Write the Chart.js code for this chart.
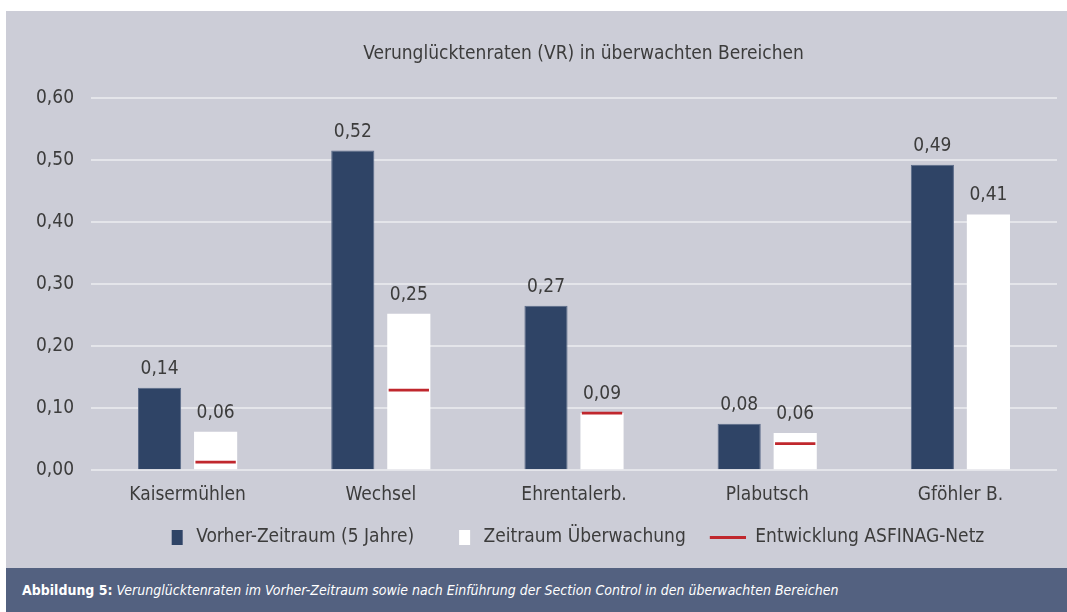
<!DOCTYPE html>
<html>
<head>
<meta charset="utf-8">
<script src="https://cdn.jsdelivr.net/npm/chart.js@4"></script>
<style>
  body { margin: 0; background: #fff; width: 1067px; height: 612px; position: relative; overflow: hidden; }
  #panel { position: absolute; left: 6px; top: 11px; width: 1061px; height: 557px; background: #cccdd7; }
  #caption { position: absolute; left: 6px; top: 568px; width: 1061px; height: 44px; background: #536180;
    color: #fff; font-family: "DejaVu Sans Condensed", "Liberation Sans Narrow", sans-serif; font-size: 14px;
    line-height: 44px; padding-left: 16px; box-sizing: border-box; }
</style>
</head>
<body>
<div id="panel"><canvas id="myChart" width="1061" height="557"></canvas></div>
<div id="caption"><b>Abbildung 5:</b> <i>Verunglücktenraten im Vorher-Zeitraum sowie nach Einführung der Section Control in den überwachten Bereichen</i></div>
<script>
const strecken = ['Kaisermühlen', 'Wechsel', 'Ehrentalerb.', 'Plabutsch', 'Gföhler B.'];
const vorher = [0.133, 0.515, 0.265, 0.075, 0.492];
const ueberwachung = [0.062, 0.252, 0.092, 0.060, 0.412];
const asfinag = [0.013, 0.129, 0.092, 0.043, null];
const vorherText = ['0,14', '0,52', '0,27', '0,08', '0,49'];
const ueberwachungText = ['0,06', '0,25', '0,09', '0,06', '0,41'];
const yTicks = ['0,00', '0,10', '0,20', '0,30', '0,40', '0,50', '0,60'];

const schrift = '"DejaVu Sans Condensed", "Liberation Sans Narrow", sans-serif';
const textFarbe = '#3c3c3c';
const navy = '#2f4466';
const rot = '#c0272d';

// Legendensymbole: links transparent, damit der Abstand passt
function symbol(x0, w, h, farbe) {
  const c = document.createElement('canvas');
  c.width = 50; c.height = h;
  const g = c.getContext('2d');
  g.fillStyle = farbe;
  g.fillRect(x0, 0, w, h);
  return c;
}
const symbole = [symbol(35, 11, 15, navy), symbol(35, 11, 15, '#ffffff'), symbol(14, 36, 3, rot)];

// Werte über den Balken
const werteLabels = {
  id: 'werteLabels',
  afterDatasetsDraw(chart) {
    const ctx = chart.ctx;
    ctx.save();
    ctx.font = '19px ' + schrift;
    ctx.fillStyle = textFarbe;
    ctx.textAlign = 'center';
    ctx.textBaseline = 'alphabetic';
    [vorherText, ueberwachungText].forEach((texte, i) => {
      chart.getDatasetMeta(i).data.forEach((bar, j) => {
        ctx.fillText(texte[j], bar.x, bar.y - 14);
      });
    });
    ctx.restore();
  }
};

// Titel und Legende über der Zeichenfläche zentrieren
const verschieben = {
  id: 'verschieben',
  afterLayout(chart) {
    chart.titleBlock.left += 47;
    chart.titleBlock.right += 47;
    chart.legend.left += 24;
    chart.legend.right += 24;
  }
};

const ctx = document.getElementById('myChart');

new Chart(ctx, {
  type: 'bar',
  data: {
    labels: strecken,
    datasets: [{
      label: 'Vorher-Zeitraum (5 Jahre)',
      data: vorher,
      backgroundColor: navy,
      borderColor: '#5a6a88',
      borderWidth: 1,
      stack: 'a',
      order: 0,
      barPercentage: 0.77,
      categoryPercentage: 0.58
    }, {
      label: 'Zeitraum Überwachung',
      data: ueberwachung,
      backgroundColor: '#ffffff',
      borderWidth: 0,
      stack: 'b',
      order: 1,
      barPercentage: 0.77,
      categoryPercentage: 0.58
    }, {
      label: 'Entwicklung ASFINAG-Netz',
      data: asfinag.map(v => v === null ? null : [v - 0.0022, v + 0.0022]),
      backgroundColor: rot,
      borderWidth: 0,
      stack: 'b',
      order: 0,
      barPercentage: 0.72,
      categoryPercentage: 0.58
    }]
  },
  options: {
    responsive: false,
    animation: false,
    layout: { padding: { left: 10, right: 10, top: 0, bottom: 11 } },
    scales: {
      x: {
        stacked: true,
        grid: { display: false },
        border: { display: false },
        ticks: { color: textFarbe, font: { family: schrift, size: 19 }, padding: 5 },
        afterFit: (axis) => { axis.height += 7; }
      },
      y: {
        stacked: false,
        min: 0,
        max: 0.6,
        afterFit: (axis) => { axis.width = 75; },
        grid: { color: '#e4e5ea', lineWidth: 2, drawTicks: false },
        border: { display: false },
        ticks: {
          stepSize: 0.1,
          color: textFarbe,
          font: { family: schrift, size: 19 },
          padding: 17,
          callback: (v, i) => yTicks[i]
        }
      }
    },
    plugins: {
      title: {
        display: true,
        text: 'Verunglücktenraten (VR) in überwachten Bereichen',
        color: textFarbe,
        font: { family: schrift, size: 19, weight: 'normal' },
        padding: { top: 32, bottom: 32 }
      },
      legend: {
        position: 'bottom',
        labels: {
          usePointStyle: true,
          pointStyleWidth: 50,
          boxHeight: 19,
          padding: 10,
          color: textFarbe,
          font: { family: schrift, size: 19 },
          generateLabels(chart) {
            const items = Chart.defaults.plugins.legend.labels.generateLabels(chart);
            items.sort((a, b) => a.datasetIndex - b.datasetIndex);
            items.forEach(it => { it.pointStyle = symbole[it.datasetIndex]; });
            return items;
          }
        }
      },
      tooltip: { enabled: false }
    }
  },
  plugins: [werteLabels, verschieben]
});
</script>
</body>
</html>
